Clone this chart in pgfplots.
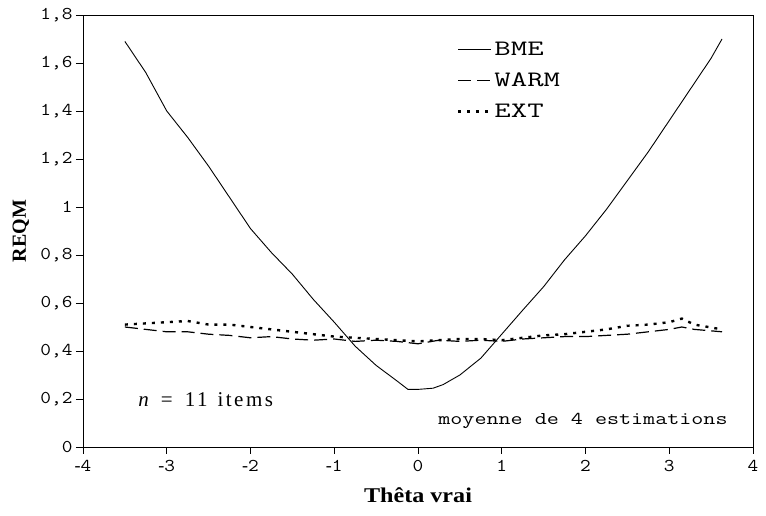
\documentclass[border=0pt]{standalone}
\usepackage{fontspec}
\setmainfont{Liberation Serif}
\newfontfamily\legfont[FakeStretch=1.45]{Latin Modern Mono}
\newfontfamily\annfont[FakeStretch=1.3]{Latin Modern Mono}
\newfontfamily\tickfont[FakeStretch=1.15]{Latin Modern Mono}
\newfontfamily\labfont[FakeStretch=1.15]{Liberation Serif}
\newfontfamily\itemfont[LetterSpace=12]{Liberation Serif}
\newcommand{\hy}{{\rmfamily -}}
\usepackage{pgfplots}
\pgfplotsset{compat=1.18}

\pgfplotstableread{
x y
-3.50 1.69
-3.25 1.56
-3.00 1.40
-2.75 1.29
-2.50 1.17
-2.25 1.04
-2.00 0.91
-1.75 0.81
-1.50 0.72
-1.25 0.615
-1.00 0.52
-0.75 0.42
-0.50 0.34
-0.25 0.275
-0.12 0.24
0.00 0.24
0.18 0.245
0.30 0.26
0.50 0.30
0.75 0.37
1.00 0.47
1.25 0.57
1.50 0.668
1.75 0.78
2.00 0.88
2.25 0.99
2.50 1.11
2.75 1.23
3.00 1.36
3.25 1.49
3.50 1.62
3.63 1.70
}\bme

\pgfplotstableread{
x y
-3.50 0.50
-3.25 0.49
-3.00 0.48
-2.75 0.48
-2.50 0.47
-2.25 0.465
-2.00 0.455
-1.75 0.46
-1.50 0.45
-1.25 0.445
-1.00 0.45
-0.75 0.44
-0.50 0.445
-0.25 0.44
0.00 0.43
0.25 0.445
0.50 0.44
0.75 0.445
1.00 0.44
1.25 0.45
1.50 0.455
1.75 0.46
2.00 0.46
2.25 0.465
2.50 0.47
2.75 0.48
3.00 0.49
3.15 0.50
3.30 0.49
3.63 0.48
}\warm

\pgfplotstableread{
x y
-3.50 0.51
-3.25 0.515
-3.00 0.52
-2.75 0.525
-2.50 0.51
-2.25 0.51
-2.00 0.50
-1.75 0.49
-1.50 0.48
-1.25 0.47
-1.00 0.46
-0.75 0.455
-0.50 0.45
-0.25 0.445
0.00 0.44
0.25 0.445
0.50 0.45
0.75 0.45
1.00 0.445
1.25 0.455
1.50 0.465
1.75 0.47
2.00 0.48
2.25 0.49
2.50 0.505
2.75 0.51
3.00 0.52
3.15 0.535
3.30 0.51
3.63 0.49
}\ext

\begin{document}
\begin{tikzpicture}
\path[use as bounding box] (-83pt,-69pt) rectangle (683pt,447pt);
\begin{axis}[
  at={(0pt,0pt)}, anchor=south west,
  scale only axis, width=670pt, height=432pt,
  xmin=-4, xmax=4, ymin=0, ymax=1.8,
  xtick={-4,-3,-2,-1,0,1,2,3,4},
  xticklabels={\hy4,\hy3,\hy2,\hy1,0,1,2,3,4},
  ytick={0,0.2,0.4,0.6,0.8,1,1.2,1.4,1.6,1.8},
  yticklabels={0,{0,2},{0,4},{0,6},{0,8},1,{1,2},{1,4},{1,6},{1,8}},
  xtick pos=bottom, ytick pos=left,
  tick align=outside, major tick length=7pt,
  tick style={black, line width=0.8pt},
  axis line style={black, line width=0.8pt},
  tick label style={font=\tickfont\fontsize{18}{20}\selectfont},
  xticklabel style={yshift=-3pt},
  xlabel={\labfont\bfseries Thêta vrai},
  ylabel={\bfseries REQM},
  xlabel style={at={(axis description cs:0.5,0)}, anchor=center, yshift=-48pt, font=\fontsize{21}{24}\selectfont},
  ylabel style={at={(axis description cs:0,0.5)}, anchor=center, yshift=62pt, font=\fontsize{20}{22}\selectfont},
  legend style={draw=none, fill=none, at={(0.558,0.943)}, anchor=north west,
    font=\legfont\fontsize{22}{24}\selectfont, row sep=12pt, inner sep=0pt},
  legend cell align=left,
  legend image code/.code={\draw[#1] (0pt,0pt) -- (33pt,0pt);},
  every axis legend/.append style={/tikz/every even column/.append style={column sep=5pt}},
]
\addplot[black, line width=0.9pt] table {\bme};
\addlegendentry{BME}
\addplot[black, line width=1.2pt, dash pattern=on 13pt off 6pt] table {\warm};
\addlegendentry{WARM}
\addplot[black, line width=2.4pt, dash pattern=on 3pt off 6pt] table {\ext};
\addlegendentry{EXT}
\node[anchor=west, font=\fontsize{21}{23}\selectfont] at (axis cs:-3.38,0.196) {\textit{n}\hspace{12pt}=\hspace{12pt}{\itemfont 11}\hspace{10pt}{\itemfont items}};
\node[anchor=center, font=\annfont\fontsize{18}{20}\selectfont] at (axis cs:1.97,0.11) {moyenne de 4 estimations};
\end{axis}
\end{tikzpicture}
\end{document}
